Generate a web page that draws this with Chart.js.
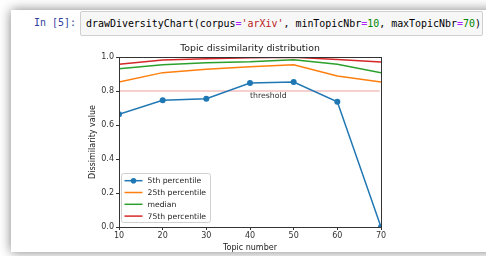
<!DOCTYPE html>
<html>
<head>
<meta charset="utf-8">
<script src="https://cdn.jsdelivr.net/npm/chart.js@4/dist/chart.umd.min.js"></script>
<style>
  body { margin: 0; width: 486px; height: 256px; background: #fff; overflow: hidden; position: relative; font-family: "DejaVu Sans Mono", monospace; }
  .card { position: absolute; left: 11px; top: 10px; width: 500px; height: 242px; background: #fff; box-shadow: 0 0 11px rgba(0,0,0,0.5); }
  .prompt { position: absolute; left: 34px; top: 16px; font-size: 9.95px; color: #303F9F; line-height: 14px; }
  .code { position: absolute; left: 80px; top: 11px; width: 401px; height: 23px; background: #f7f7f7; border: 1px solid #cfcfcf; border-radius: 2px; }
  .code span.t { position: absolute; left: 5px; top: 5px; font-size: 9.95px; line-height: 14px; color: #000; white-space: pre; }
  .s { color: #BA2121; }
  .o { color: #AA22FF; }
  .n { color: #008800; }
  #chart { position: absolute; left: 0; top: 0; }
</style>
</head>
<body>
<div class="card"></div>
<div class="prompt">In [5]:</div>
<div class="code"><span class="t">drawDiversityChart(corpus<span class="o">=</span><span class="s">'arXiv'</span>, minTopicNbr<span class="o">=</span><span class="n">10</span>, maxTopicNbr<span class="o">=</span><span class="n">70</span>)</span></div>
<canvas id="chart" width="486" height="256"></canvas>
<script>
const topicNbrs = [10, 20, 30, 40, 50, 60, 70];
const p5 = [0.663, 0.745, 0.755, 0.847, 0.853, 0.737, 0.0];
const p25 = [0.853, 0.908, 0.928, 0.943, 0.955, 0.888, 0.853];
const median = [0.931, 0.955, 0.966, 0.972, 0.984, 0.957, 0.908];
const p75 = [0.957, 0.982, 0.990, 0.996, 0.998, 0.986, 0.971];
const threshold = 0.8;
const yTicks = [0.0, 0.2, 0.4, 0.6, 0.8, 1.0];

const pts = arr => arr.map((v, i) => ({ x: topicNbrs[i], y: v }));
const tickFont = { family: 'DejaVu Sans', size: 8 };

const framePlugin = {
  id: 'frame',
  afterDatasetsDraw(chart) {
    const { ctx, chartArea: a, scales } = chart;
    ctx.save();
    ctx.strokeStyle = '#333';
    ctx.lineWidth = 1;
    ctx.strokeRect(Math.round(a.left) + 0.5, Math.round(a.top) + 0.5, Math.round(a.right - a.left), Math.round(a.bottom - a.top));
    // threshold label
    ctx.fillStyle = '#333';
    ctx.font = '7.8px "DejaVu Sans"';
    ctx.textAlign = 'center';
    ctx.textBaseline = 'middle';
    ctx.fillText('threshold', scales.x.getPixelForValue(44.2), scales.y.getPixelForValue(0.772));
    // legend
    const items = chart.data.datasets.filter(d => d.label);
    const bx = 121.5, by = 173.5, bw = 89, bh = 49;
    ctx.fillStyle = 'rgba(255,255,255,0.8)';
    ctx.strokeStyle = '#d0d0d0';
    ctx.beginPath();
    ctx.roundRect(bx, by, bw, bh, 2);
    ctx.fill();
    ctx.stroke();
    items.forEach((d, i) => {
      const y = 180.7 + i * 11.8;
      ctx.strokeStyle = d.borderColor;
      ctx.lineWidth = 1.5;
      ctx.beginPath();
      ctx.moveTo(124.5, y);
      ctx.lineTo(142.5, y);
      ctx.stroke();
      if (d.pointRadius > 0) {
        ctx.fillStyle = d.borderColor;
        ctx.beginPath();
        ctx.arc(133.5, y, 2.8, 0, Math.PI * 2);
        ctx.fill();
      }
      ctx.fillStyle = '#222';
      ctx.textAlign = 'left';
      ctx.font = '7.7px "DejaVu Sans"';
      ctx.fillText(d.label, 147.5, y + 0.5);
    });
    ctx.restore();
  }
};

new Chart(document.getElementById('chart'), {
  type: 'line',
  data: {
    datasets: [
      { label: '5th percentile', data: pts(p5), borderColor: '#1f77b4', backgroundColor: '#1f77b4', borderWidth: 1.5, pointRadius: 3, pointBorderWidth: 0 },
      { label: '25th percentile', data: pts(p25), borderColor: '#ff7f0e', borderWidth: 1.5, pointRadius: 0 },
      { label: 'median', data: pts(median), borderColor: '#2ca02c', borderWidth: 1.5, pointRadius: 0 },
      { label: '75th percentile', data: pts(p75), borderColor: '#d62728', borderWidth: 1.5, pointRadius: 0 },
      { data: [{ x: topicNbrs[0], y: threshold }, { x: 69.7, y: threshold }], borderColor: 'rgba(214,39,40,0.45)', borderWidth: 1, pointRadius: 0 }
    ]
  },
  options: {
    responsive: false,
    animation: false,
    devicePixelRatio: 1,
    layout: { padding: { left: 83, right: 105, top: 40, bottom: 0 } },
    plugins: {
      legend: { display: false },
      tooltip: { enabled: false },
      title: { display: false }
    },
    scales: {
      // top axis only carries the chart title, so it is centred over the plot
      xTop: {
        type: 'linear',
        position: 'top',
        min: 10, max: 70,
        afterFit: s => { s.height = 17; },
        ticks: { display: false },
        grid: { display: false },
        border: { display: false },
        title: {
          display: true,
          text: 'Topic dissimilarity distribution',
          color: '#222',
          font: { family: 'DejaVu Sans', size: 9.4 },
          padding: { top: 3, bottom: 0 }
        }
      },
      x: {
        type: 'linear',
        min: 10, max: 70,
        afterFit: s => { s.height = 29; },
        ticks: { stepSize: 10, color: '#333', font: tickFont, padding: 1, maxRotation: 0 },
        grid: { display: true, drawOnChartArea: false, drawTicks: true, tickLength: 3, color: '#333' },
        border: { display: false },
        title: { display: true, text: 'Topic number', color: '#222', font: tickFont, padding: { top: 0, bottom: 3.5 } }
      },
      y: {
        min: 0, max: 1,
        afterFit: s => { s.width = 36; },
        afterBuildTicks: s => { s.ticks = yTicks.map(v => ({ value: v })); },
        ticks: { color: '#333', font: tickFont, padding: 2, callback: v => v.toFixed(1) },
        grid: { display: true, drawOnChartArea: false, drawTicks: true, tickLength: 3, color: '#333' },
        border: { display: false },
        title: { display: true, text: 'Dissimilarity value', color: '#222', font: tickFont, padding: { top: 5, bottom: 0 } }
      }
    }
  },
  plugins: [framePlugin]
});
</script>
</body>
</html>
